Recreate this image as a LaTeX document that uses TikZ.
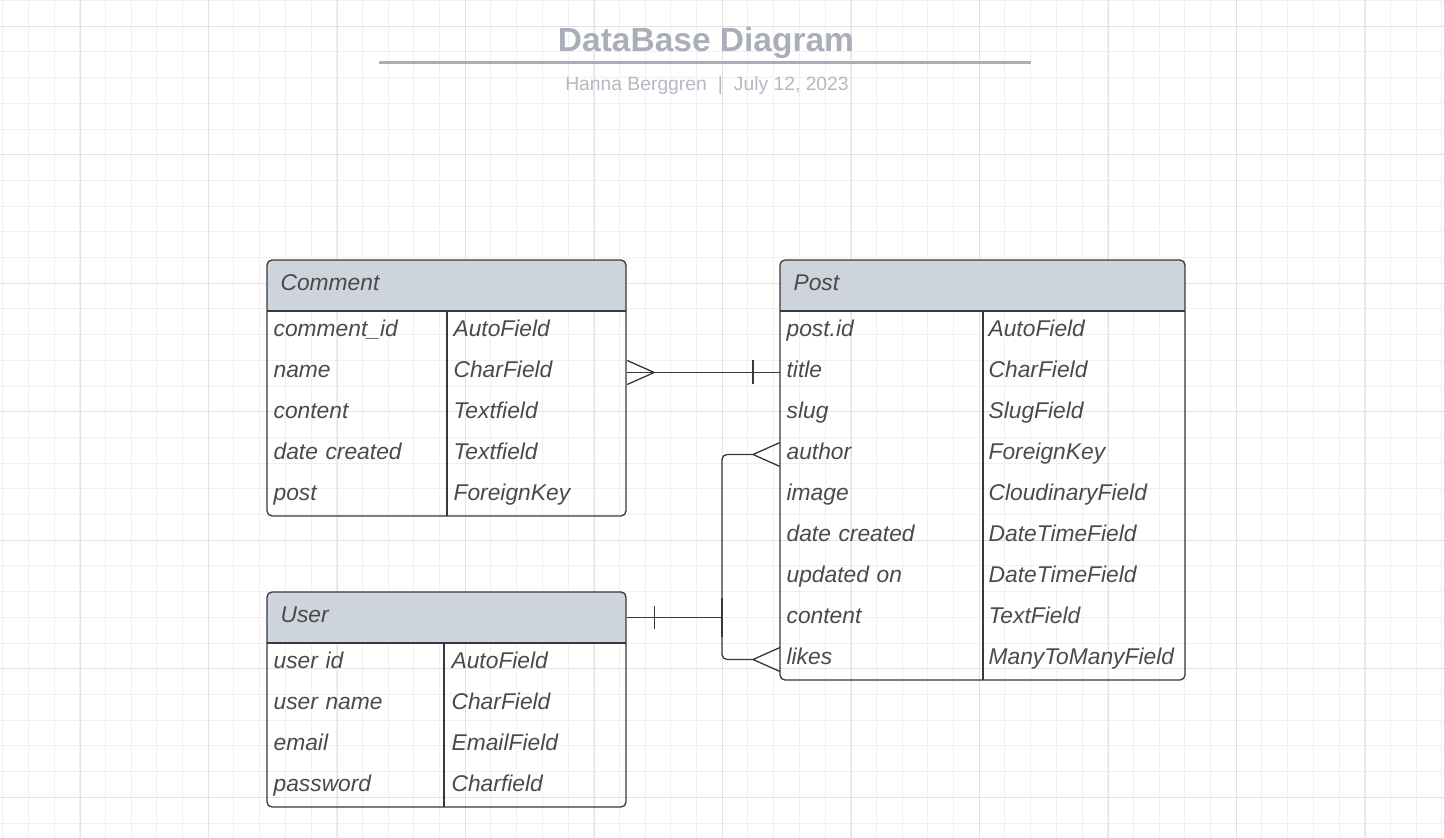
\documentclass[tikz,border=0pt]{standalone}
\usepackage{fontspec}
\setmainfont{Liberation Sans}

\definecolor{gridminor}{HTML}{F0F0F0}
\definecolor{gridmajor}{HTML}{E2E2E2}
\definecolor{titlegrey}{HTML}{A9AEB9}
\definecolor{subgrey}{HTML}{B4B8C1}
\definecolor{hdrfill}{HTML}{CED4DB}
\definecolor{txt}{HTML}{4A4A4A}
\definecolor{edge}{HTML}{353840}

\begin{document}
\begin{tikzpicture}[x=0.5pt, y=-0.5pt, semithick]
  \tikzstyle{fld}=[anchor=west, inner xsep=3pt, inner ysep=0pt, align=left,
    text height=7.5pt, text depth=2.5pt, text=txt,
    font=\itshape\fontsize{11.4}{13}\selectfont]
  \tikzstyle{hdr}=[fld, inner xsep=6.5pt]
  \tikzstyle{tbl}=[draw=edge, line width=0.65pt, rounded corners=2.5pt]
  \tikzstyle{conn}=[draw=edge, line width=0.65pt]

  \useasboundingbox (0,0) rectangle (1444,838);

  % Grid
  \foreach \k in {0,...,56} \draw[gridminor, line width=0.5pt] ({2.6+25.7*\k},0) -- ++(0,838);
  \foreach \k in {0,...,32} \draw[gridminor, line width=0.5pt] (0,{0.6+25.7*\k}) -- ++(1444,0);
  \foreach \k in {0,...,10} \draw[gridmajor, line width=0.6pt] ({80.3+128.5*\k},0) -- ++(0,838);
  \foreach \k in {0,...,6} \draw[gridmajor, line width=0.6pt] (0,{26.3+128.5*\k}) -- ++(1444,0);

  % Title
  \node[text=titlegrey, font=\bfseries\fontsize{16.75}{20}\selectfont] (ttl) at (706,43) {DataBase Diagram};
  \draw[titlegrey, line width=1.5pt] (379,63) -- (1031,63);
  \node[text=subgrey, font=\fontsize{9.65}{12}\selectfont] (sub) at (707,86)
    {Hanna Berggren\hspace{5.5pt}|\hspace{5.5pt}July 12, 2023};

  % Comment
  \begin{scope}
    \clip[rounded corners=2.5pt] (267,260) rectangle (626,516);
    \fill[hdrfill] (267,260) rectangle (626,311);
  \end{scope}
  \node[hdr, text width=166.5pt] (cmt) at (267,285.5) {Comment};
  \foreach \n/\t [count=\i] in {comment\_id/AutoField, name/CharField, content/Textfield,
      date created/Textfield, post/ForeignKey}
    \node[fld, text width=173.5pt] (cmt\i) at (267,{290.5+41*\i}) {\makebox[90pt][l]{\n}\t};
  \draw[conn] (267,311) -- (626,311) (447,311) -- (447,516);
  \draw[tbl] (267,260) rectangle (626,516);

  % Post
  \begin{scope}
    \clip[rounded corners=2.5pt] (780,260) rectangle (1185,680);
    \fill[hdrfill] (780,260) rectangle (1185,311);
  \end{scope}
  \node[hdr, text width=189.5pt] (pst) at (780,285.5) {Post};
  \foreach \n/\t [count=\i] in {post.id/AutoField, title/CharField, slug/SlugField,
      author/ForeignKey, image/CloudinaryField, date created/DateTimeField,
      updated on/DateTimeField, content/TextField, likes/ManyToManyField}
    \node[fld, text width=196.5pt] (pst\i) at (780,{290.5+41*\i}) {\makebox[101pt][l]{\n}\t};
  \draw[conn] (780,311) -- (1185,311) (983,311) -- (983,680);
  \draw[tbl] (780,260) rectangle (1185,680);

  % User
  \begin{scope}
    \clip[rounded corners=2.5pt] (267,592) rectangle (626,807);
    \fill[hdrfill] (267,592) rectangle (626,643);
  \end{scope}
  \node[hdr, text width=166.5pt] (usr) at (267,617.5) {User};
  \foreach \n/\t [count=\i] in {user id/AutoField, user name/CharField,
      email/EmailField, password/Charfield}
    \node[fld, text width=173.5pt] (usr\i) at (267,{622.5+41*\i}) {\makebox[89pt][l]{\n}\t};
  \draw[conn] (267,643) -- (626,643) (444,643) -- (444,807);
  \draw[tbl] (267,592) rectangle (626,807);

  % Comment (many) -- Post (one)
  \draw[conn] (cmt2.east) -- (pst2.west);
  \draw[conn] (cmt2.east) ++(0,-12) -- ++(27,12) -- ++(-27,12);
  \draw[conn] (pst2.west) ++(-27,-12) -- ++(0,24);

  % User (one) -- Post author / likes (many)
  \coordinate (jn) at (722,617.5);
  \draw[conn] (usr.east) -- (jn);
  \draw[conn] (usr.east) ++(27,-11) -- ++(0,22);
  \draw[conn, line width=1.3pt] (jn) ++(0,-19) -- ++(0,38);
  \draw[conn, rounded corners=2.5pt] ([xshift=-13.5pt]pst4.west) -| (jn) |- ([xshift=-13.5pt]pst9.west);
  \draw[conn] (pst4.west) ++(0,-12) -- ++(-27,12) -- ++(27,12);
  \draw[conn] (pst9.west) ++(0,-12) -- ++(-27,12) -- ++(27,12);
\end{tikzpicture}
\end{document}
